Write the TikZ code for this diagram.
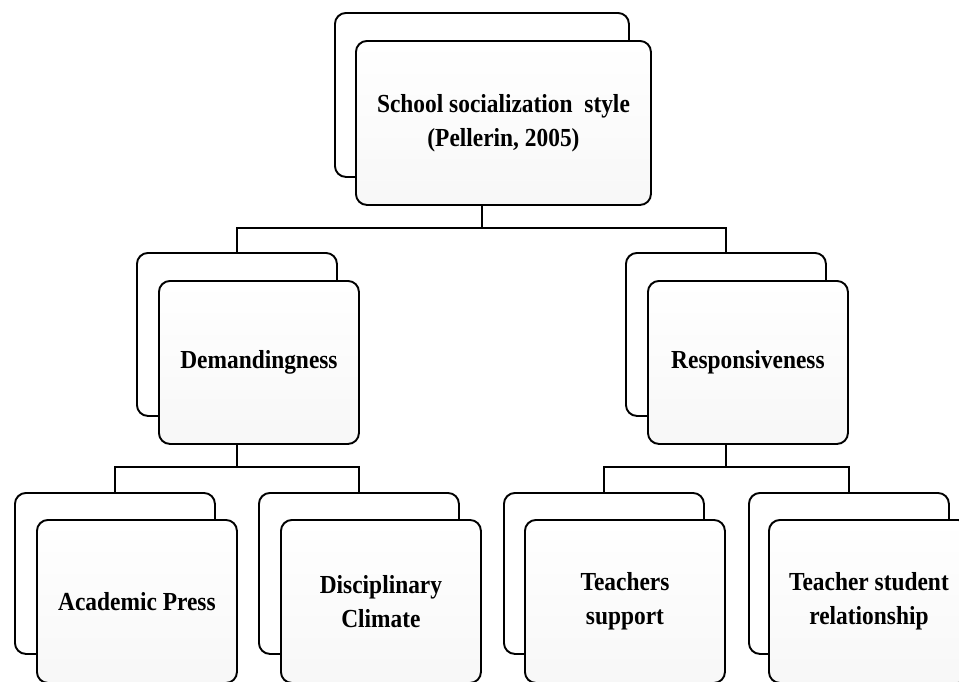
\documentclass[tikz,border=0pt]{standalone}
\usepackage{fontspec}
\setmainfont{Liberation Serif}[FakeStretch=0.9]
\tikzset{
  backbox/.style={draw, line width=1.9pt, rounded corners=11pt, fill=white,
    inner sep=0pt, anchor=north west, minimum width=200pt, minimum height=163pt},
  frontbox/.style={backbox, top color=white, bottom color=black!3,
    font=\bfseries\fontsize{26}{34}\selectfont, align=center},
  link/.style={line width=1.9pt},
}
\begin{document}
\begin{tikzpicture}[x=1pt,y=-1pt]
\useasboundingbox (0,0) rectangle (959,681);
\clip (0,0) rectangle (959,681);

% top level
\node[backbox, minimum width=294pt, minimum height=164pt] (schoolback) at (334,12) {};
\node[frontbox, minimum width=295pt, minimum height=164pt] (school) at (355,40)
  {School socialization\ \ style\\(Pellerin, 2005)};

% second level
\node[backbox] (demback) at (136,252) {};
\node[frontbox] (dem) at (158,280) {Demandingness};
\node[backbox] (resback) at (625,252) {};
\node[frontbox] (res) at (647,280) {Responsiveness};

% third level
\node[backbox, minimum height=161pt] (acaback) at (14,492) {};
\node[frontbox] (aca) at (36,519) {Academic Press};
\node[backbox, minimum height=161pt] (disback) at (258,492) {};
\node[frontbox] (dis) at (280,519) {Disciplinary\\Climate};
\node[backbox, minimum height=161pt] (supback) at (503,492) {};
\node[frontbox] (sup) at (524,519) {Teachers\\support};
\node[backbox, minimum height=161pt] (relback) at (748,492) {};
\node[frontbox] (rel) at (768,519) {Teacher student\\relationship};

% connectors
\coordinate (bustop) at (schoolback |- 0,228);
\coordinate (busdem) at (demback |- 0,467);
\coordinate (busres) at (resback |- 0,467);
\draw[link] (schoolback |- school.south) -- (bustop);
\draw[link] (demback.north) |- (bustop) -| (resback.north);
\draw[link] (demback |- dem.south) -- (busdem);
\draw[link] (acaback.north) |- (busdem) -| (disback.north);
\draw[link] (resback |- res.south) -- (busres);
\draw[link] (supback.north) |- (busres) -| (relback.north);
\end{tikzpicture}
\end{document}
